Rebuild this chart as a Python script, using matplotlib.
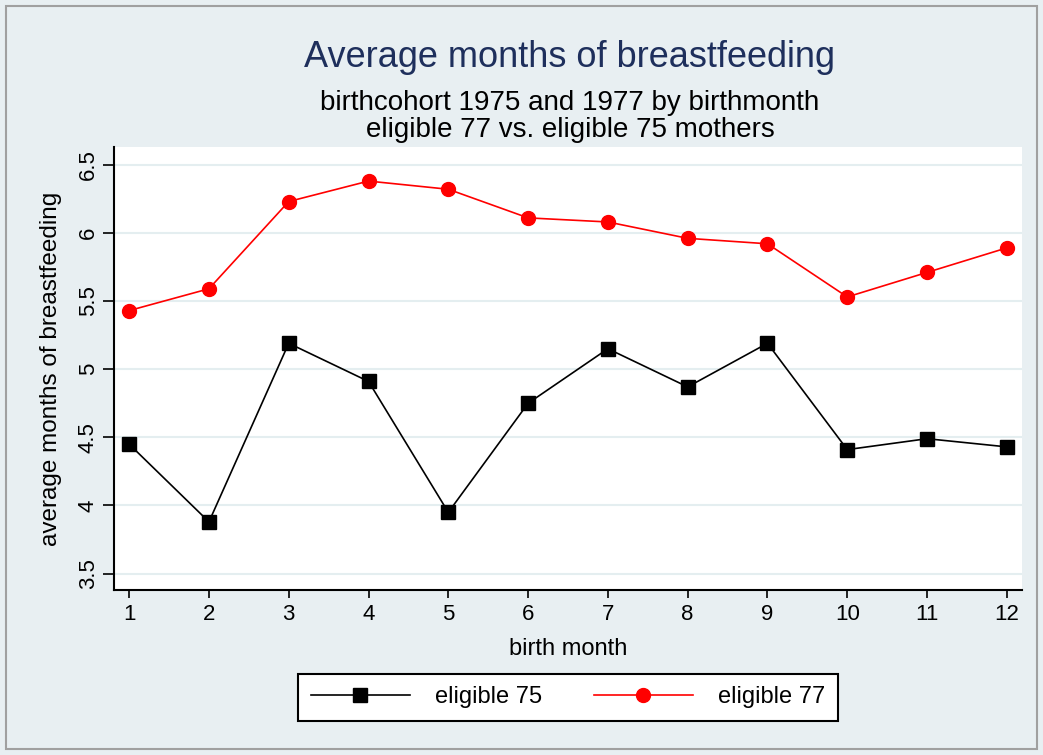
import numpy as np
import matplotlib.pyplot as plt
from matplotlib.patches import Rectangle

plt.rcParams['font.family'] = ['Liberation Sans', 'DejaVu Sans']

# data
months = [1, 2, 3, 4, 5, 6, 7, 8, 9, 10, 11, 12]
elig75 = [4.45, 3.88, 5.19, 4.91, 3.95, 4.75, 5.15, 4.87, 5.19, 4.41, 4.49, 4.43]
elig77 = [5.43, 5.59, 6.23, 6.38, 6.32, 6.11, 6.08, 5.96, 5.92, 5.53, 5.71, 5.89]
yticks = [3.5, 4, 4.5, 5, 5.5, 6, 6.5]
ytick_labels = ['3.5', '4', '4.5', '5', '5.5', '6', '6.5']

bg = '#e8eff2'
W, H = 1043, 755
fig = plt.figure(figsize=(W / 100, H / 100), dpi=100, facecolor=bg)

# outer frame
fig.patches.append(Rectangle((6 / W, 6 / H), 1 - 12 / W, 1 - 12 / H,
                             transform=fig.transFigure, fill=False,
                             edgecolor='#a0a0a0', lw=1.5))

ax = fig.add_axes([114 / W, 1 - 590 / H, (1022 - 114) / W, (590 - 147) / H])
ax.set_facecolor('white')

ax.plot(months, elig75, color='black', lw=1.2, marker='s', markersize=9.5,
        label='eligible 75')
ax.plot(months, elig77, color='red', lw=1.2, marker='o', markersize=10,
        label='eligible 77')

ax.set_xlim(0.81, 12.19)
ax.set_ylim(3.38, 6.63)
ax.set_xticks(months)
ax.set_yticks(yticks)
ax.set_yticklabels(ytick_labels, rotation=90, va='center')
ax.tick_params(labelsize=16, width=1.2, colors='black')
ax.tick_params(axis='x', length=6, pad=4)
ax.tick_params(axis='y', length=8, pad=3)
ax.grid(axis='y', color='#e4eef0', lw=1.5)
ax.set_axisbelow(True)

for s in ['top', 'right']:
    ax.spines[s].set_visible(False)
for s in ['left', 'bottom']:
    ax.spines[s].set_linewidth(1.5)

ax.set_xlabel('birth month', fontsize=17)
ax.xaxis.set_label_coords(0.5, -0.108)
ax.set_ylabel('average months of breastfeeding', fontsize=17.5)
ax.yaxis.set_label_coords(-0.057, 0.5)

fig.text(570 / W, 1 - 67 / H, 'Average months of breastfeeding',
         ha='center', va='baseline', fontsize=26, color='#1e2f5c')
fig.text(570 / W, 1 - 110 / H, 'birthcohort 1975 and 1977 by birthmonth',
         ha='center', va='baseline', fontsize=20, color='black')
fig.text(570 / W, 1 - 137 / H, 'eligible 77 vs. eligible 75 mothers',
         ha='center', va='baseline', fontsize=20, color='black')

leg = fig.legend(loc='center', bbox_to_anchor=(568 / W, 1 - 697.5 / H), ncol=2,
                 fontsize=17, frameon=True, fancybox=False, edgecolor='black',
                 framealpha=1, handlelength=4.2, columnspacing=2.2,
                 handletextpad=1.05, borderpad=0.55)
leg.get_frame().set_linewidth(1.5)

fig.savefig('out.png', dpi=100, facecolor=bg)
